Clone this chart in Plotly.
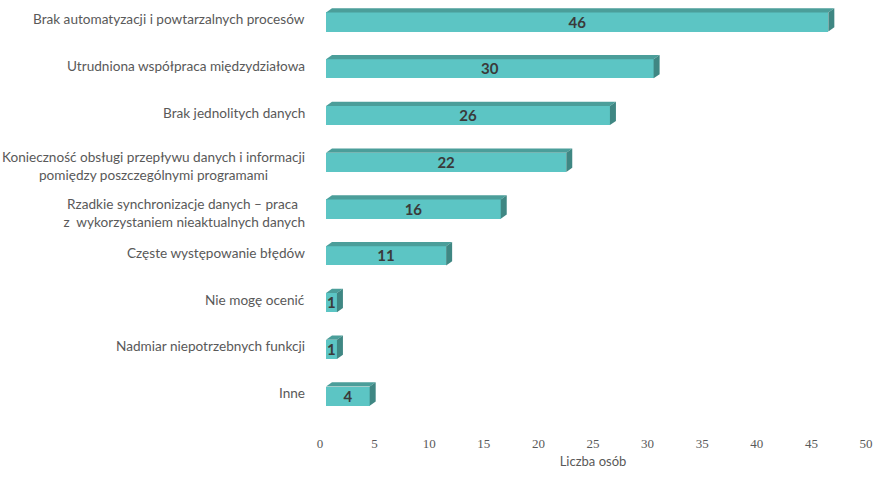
import plotly.graph_objects as go

categories = [
    "Brak automatyzacji i powtarzalnych procesów",
    "Utrudniona współpraca międzydziałowa",
    "Brak jednolitych danych",
    "Konieczność obsługi przepływu danych i informacji<br>pomiędzy poszczególnymi programami",
    "Rzadkie synchronizacje danych – praca<br> z  wykorzystaniem nieaktualnych danych",
    "Częste występowanie błędów",
    "Nie mogę ocenić",
    "Nadmiar niepotrzebnych funkcji",
    "Inne",
]
values = [46, 30, 26, 22, 16, 11, 1, 1, 4]
x_ticks = [0, 5, 10, 15, 20, 25, 30, 35, 40, 45, 50]
x_title = "Liczba osób"

FRONT = "#5cc5c4"
TOP = "#4b9e9a"
SIDE = "#3f8783"
off = 0.55      # 3D projection shift of the front face (x units)
dx = 0.55       # depth in x units
dy = 0.09       # depth in category units
bw = 0.41       # bar thickness

ys = list(range(len(categories)))

fig = go.Figure()

# 3D faces built from the data values
for y, v in zip(ys, values):
    yt = y - bw / 2
    yb = y + bw / 2
    fig.add_trace(go.Scatter(
        x=[off, off + v, off + v + dx, off + dx, off],
        y=[yt, yt, yt - dy, yt - dy, yt],
        fill="toself", fillcolor=TOP, mode="lines",
        line=dict(width=0, color=TOP), hoverinfo="skip", showlegend=False))
    fig.add_trace(go.Scatter(
        x=[off + v, off + v + dx, off + v + dx, off + v, off + v],
        y=[yt, yt - dy, yb - dy, yb, yt],
        fill="toself", fillcolor=SIDE, mode="lines",
        line=dict(width=0, color=SIDE), hoverinfo="skip", showlegend=False))

fig.add_trace(go.Bar(
    x=values, y=ys, base=[off] * len(values), orientation="h",
    width=bw, marker=dict(color=FRONT, line=dict(width=0)),
    showlegend=False, hoverinfo="skip"))

fig.add_trace(go.Scatter(
    x=[off + v / 2 for v in values], y=[y + 0.04 for y in ys], mode="text",
    text=[str(v) for v in values],
    textfont=dict(family="Lato", size=15, color="#3a3a3a", weight="bold"),
    textposition="middle center", showlegend=False, hoverinfo="skip"))

for y, c in zip(ys, categories):
    two = "<br>" in c
    fig.add_annotation(
        x=0, xref="paper", y=y, yref="y", text=c, showarrow=False,
        xanchor="right", yanchor="middle", align="center", xshift=-13,
        yshift=(-4 if two else 3),
        font=dict(family="Lato", size=13.6, color="#595959"))

fig.update_layout(
    width=876, height=477,
    margin=dict(l=320, r=10, t=0, b=57),
    plot_bgcolor="white", paper_bgcolor="white",
    bargap=0,
    xaxis=dict(range=[0, 50], tickvals=x_ticks, showgrid=False, zeroline=False,
               showline=False, ticks="", ticklabelstandoff=14,
               tickfont=dict(family="Liberation Serif", size=13, color="#595959"),
               title=dict(text=x_title, standoff=6,
                          font=dict(family="Lato", size=13, color="#595959"))),
    yaxis=dict(range=[8.51, -0.47], showticklabels=False, showgrid=False,
               zeroline=False, showline=False),
)

fig.write_html("out.html", config={"displayModeBar": False},
               post_script="document.body.style.margin='0';")
